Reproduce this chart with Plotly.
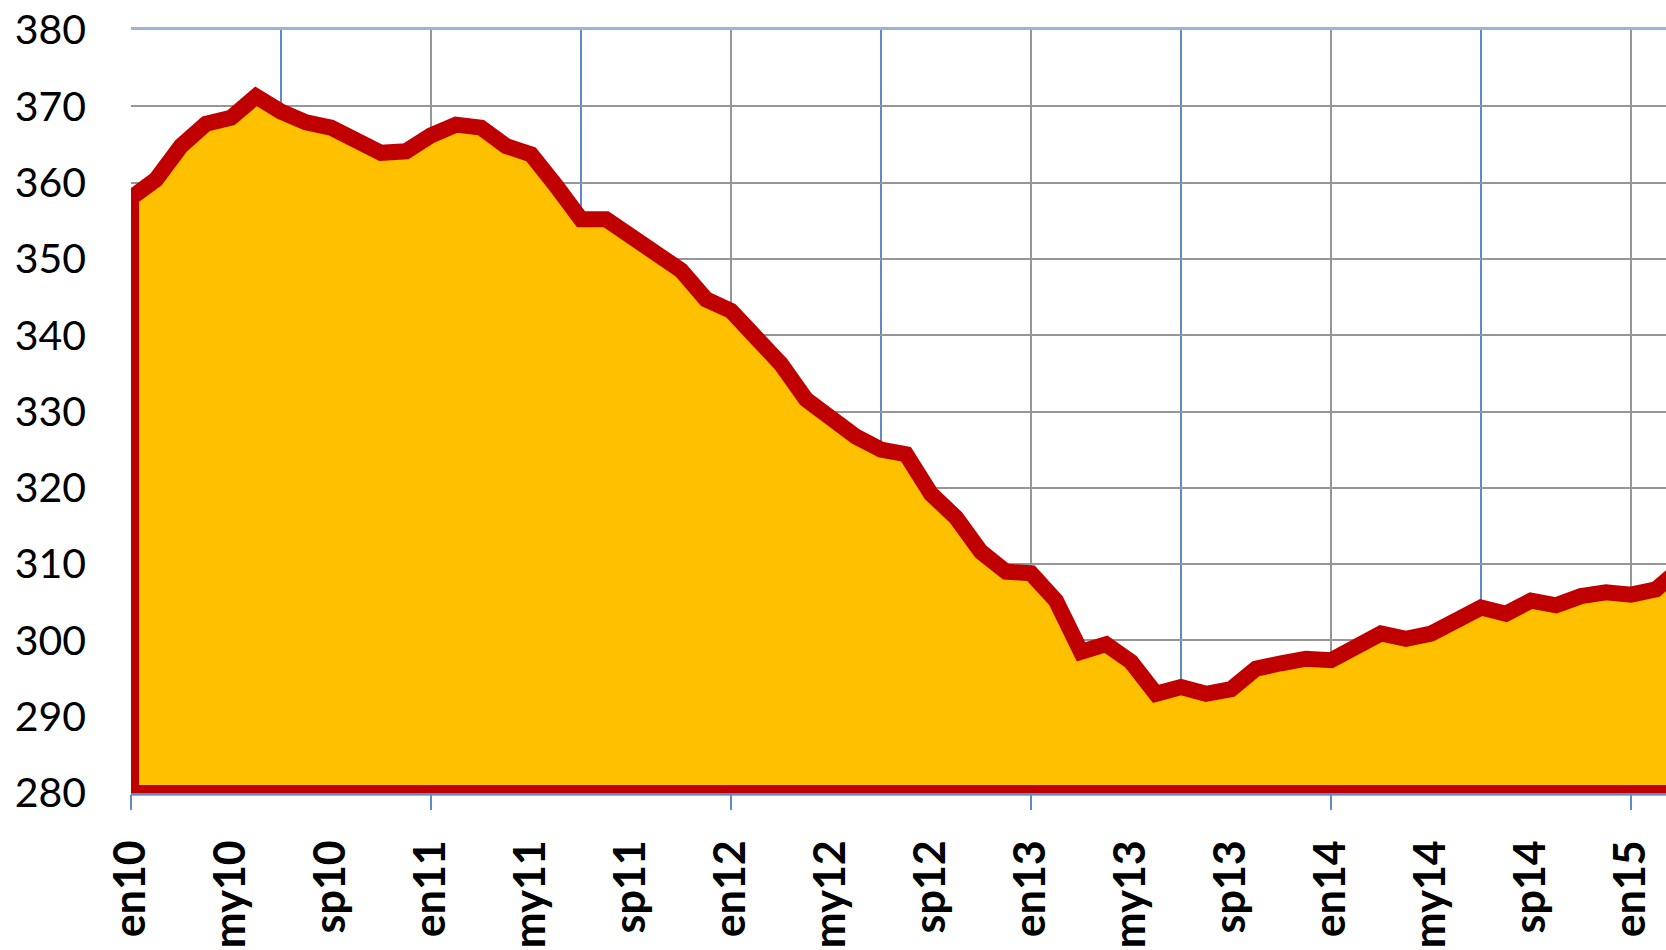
import plotly.graph_objects as go

# ---- data (monthly index from en10) ----
MONTH_INDEX = list(range(63))
VALUES = [358.0, 360.4, 364.8, 367.7, 368.5, 371.3, 369.3, 367.9, 367.2, 365.6,
          363.9, 364.1, 366.2, 367.6, 367.2, 364.8, 363.7, 359.6, 355.2, 355.2,
          352.8, 350.9, 348.5, 344.7, 343.2, 339.7, 336.2, 331.6, 329.0, 326.7,
          325.0, 324.4, 319.2, 316.1, 311.6, 309.0, 308.8, 305.2, 298.5, 299.5,
          297.2, 293.0, 293.9, 293.0, 293.6, 296.3, 297.0, 297.6, 297.4, 298.9,
          300.9, 300.2, 300.9, 302.6, 304.3, 303.5, 305.2, 304.6, 305.8, 306.3,
          306.0, 306.7, 309.5]
BASE = 280
TICK_POS = [0, 4, 8, 12, 16, 20, 24, 28, 32, 36, 40, 44, 48, 52, 56, 60]
TICK_LABELS = ["en10", "my10", "sp10", "en11", "my11", "sp11", "en12", "my12",
               "sp12", "en13", "my13", "sp13", "en14", "my14", "sp14", "en15"]
JAN_POS = [0, 12, 24, 36, 48, 60]
JUL_POS = [6, 18, 30, 42, 54]
Y_TICKS = list(range(280, 381, 10))

RED = "#C00000"
YELLOW = "#FFC000"
GRAY = "#969696"
BLUE = "#5B8BCB"
LIGHTBLUE = "#9BB3DB"

X_RANGE = [0, 61.4]

fig = go.Figure()

# area polygon closed down to the baseline and back up to the first point
poly_x = MONTH_INDEX + [MONTH_INDEX[-1], MONTH_INDEX[0], MONTH_INDEX[0]]
poly_y = VALUES + [BASE, BASE, VALUES[0]]
fig.add_trace(go.Scatter(
    x=poly_x, y=poly_y, mode="lines", fill="toself",
    fillcolor=YELLOW, line=dict(color=RED, width=16),
    hoverinfo="skip", showlegend=False, xaxis="x", yaxis="y",
))
# invisible trace carrying the grid axis
fig.add_trace(go.Scatter(
    x=MONTH_INDEX, y=VALUES, mode="lines", line=dict(width=0, color="rgba(0,0,0,0)"),
    hoverinfo="skip", showlegend=False, xaxis="x2", yaxis="y",
))

fig.update_layout(
    width=1666, height=950,
    margin=dict(l=131, r=0, t=30, b=157, autoexpand=False),
    paper_bgcolor="white", plot_bgcolor="white",
    showlegend=False,
    xaxis=dict(
        range=X_RANGE, tickmode="array", tickvals=TICK_POS, ticktext=TICK_LABELS,
        tickangle=-90, showgrid=False, zeroline=False, ticks="",
        ticklabelstandoff=27, automargin=False,
        tickfont=dict(family="Lato", size=43, color="black", weight="bold"),
        showline=True, linecolor=LIGHTBLUE, linewidth=3, mirror=True,
        layer="above traces",
    ),
    xaxis2=dict(
        range=X_RANGE, overlaying="x", anchor="y", side="bottom",
        tickmode="array", tickvals=JAN_POS, showticklabels=False,
        ticks="outside", ticklen=15, tickwidth=2, tickcolor=BLUE,
        showgrid=True, gridcolor=GRAY, gridwidth=2, zeroline=False,
        showline=True, linecolor=BLUE, linewidth=2, automargin=False,
        minor=dict(tickmode="array", tickvals=JUL_POS, showgrid=True,
                   gridcolor=BLUE, gridwidth=2, ticks=""),
        layer="above traces",
    ),
    yaxis=dict(
        range=[BASE, 380], tickmode="array", tickvals=Y_TICKS,
        showgrid=True, gridcolor=GRAY, gridwidth=2, zeroline=False,
        ticks="", ticklabelstandoff=44, showline=False, automargin=False,
        tickfont=dict(family="Lato", size=41, color="black"),
    ),
)

fig.write_html(
    "out.html",
    config={"displayModeBar": False},
    post_script="document.body.style.margin='0';document.body.style.overflow='hidden';",
)
